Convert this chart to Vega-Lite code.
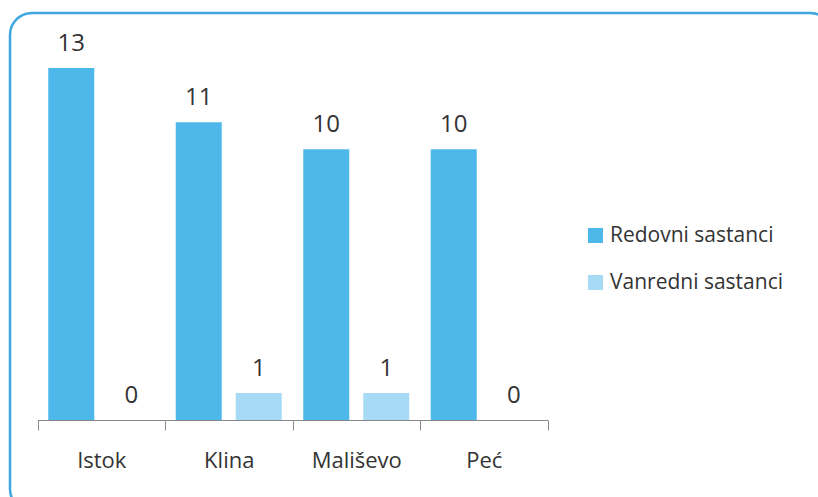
{
  "$schema": "https://vega.github.io/schema/vega-lite/v6.json",
  "autosize": {"type": "none"},
  "padding": {"left": 10, "top": 13, "right": -14, "bottom": -14},
  "width": 822,
  "height": 498,
  "background": "white",
  "config": {
    "view": {"stroke": "#3fa7df", "strokeWidth": 2.5, "cornerRadius": 22},
    "font": "Open Sans"
  },
  "data": {
    "values": [
      {"grad": "Istok", "tip": "Redovni sastanci", "n": 13},
      {"grad": "Istok", "tip": "Vanredni sastanci", "n": 0},
      {"grad": "Klina", "tip": "Redovni sastanci", "n": 11},
      {"grad": "Klina", "tip": "Vanredni sastanci", "n": 1},
      {"grad": "Mališevo", "tip": "Redovni sastanci", "n": 10},
      {"grad": "Mališevo", "tip": "Vanredni sastanci", "n": 1},
      {"grad": "Peć", "tip": "Redovni sastanci", "n": 10},
      {"grad": "Peć", "tip": "Vanredni sastanci", "n": 0}
    ]
  },
  "encoding": {
    "x": {
      "field": "grad", "type": "nominal", "sort": null, "title": null,
      "scale": {"range": [27.5, 537.5], "paddingInner": 0, "paddingOuter": 0},
      "axis": {
        "offset": -91, "labelAngle": 0, "tickBand": "extent", "tickSize": 10,
        "tickColor": "#888888", "domainColor": "#888888", "labelFontSize": 22,
        "labelColor": "#333333", "labelPadding": 20, "labelFont": "Open Sans"
      }
    },
    "xOffset": {
      "field": "tip", "type": "nominal",
      "scale": {"paddingInner": 0.2333, "paddingOuter": 0.179}
    },
    "y": {
      "field": "n", "type": "quantitative", "axis": null,
      "scale": {"domain": [0, 13], "range": [407, 55], "nice": false, "zero": true}
    }
  },
  "layer": [
    {
      "mark": {"type": "bar"},
      "encoding": {
        "color": {
          "field": "tip", "type": "nominal", "title": null,
          "scale": {"domain": ["Redovni sastanci", "Vanredni sastanci"], "range": ["#4fb8ea", "#a7dbf5"]},
          "legend": {
            "orient": "none", "legendX": 575, "legendY": 212, "padding": 0,
            "symbolType": "square", "symbolSize": 225, "symbolStrokeWidth": 0,
            "labelFontSize": 21, "labelColor": "#333333", "labelFont": "Open Sans",
            "labelOffset": 4, "rowPadding": 25, "symbolOffset": 0, "labelLimit": 0
          }
        }
      }
    },
    {
      "mark": {"type": "text", "baseline": "alphabetic", "dy": -17, "fontSize": 24, "color": "#333333", "font": "Open Sans"},
      "encoding": {"text": {"field": "n", "type": "quantitative"}}
    }
  ]
}
